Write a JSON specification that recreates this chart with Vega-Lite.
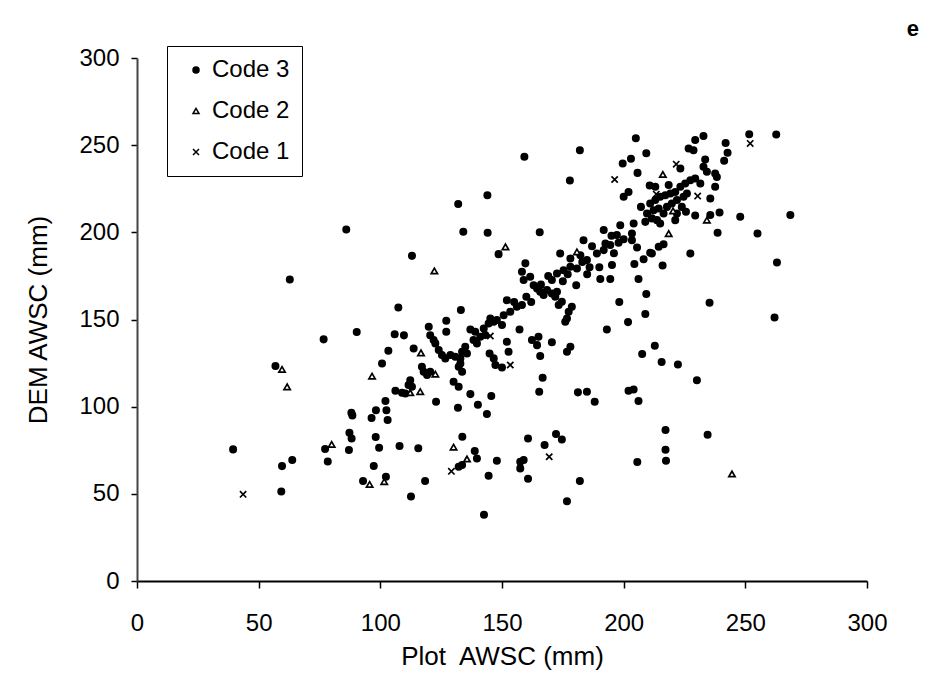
{
"$schema": "https://vega.github.io/schema/vega-lite/v6.json",
"width": 730, "height": 523,
"autosize": "none",
"padding": {"left": 137, "top": 58, "right": 64, "bottom": 113},
"background": "white",
"title": {"text": "e", "anchor": "end", "frame": "group", "dx": 52, "offset": 5, "fontSize": 22, "fontWeight": "bold", "font": "Liberation Sans", "color": "black"},
"config": {"view": {"stroke": null}, "font": "Liberation Sans"},
"data": {"values": [
{"x":86.0,"y":201.6,"c":"Code 3"},{"x":62.8,"y":173.0,"c":"Code 3"},{"x":76.7,"y":138.6,"c":"Code 3"},{"x":90.3,"y":142.8,"c":"Code 3"},{"x":56.9,"y":123.3,"c":"Code 3"},{"x":39.5,"y":75.5,"c":"Code 3"},{"x":59.6,"y":65.9,"c":"Code 3"},{"x":63.8,"y":69.4,"c":"Code 3"},{"x":59.3,"y":51.4,"c":"Code 3"},{"x":77.3,"y":75.7,"c":"Code 3"},{"x":78.4,"y":68.6,"c":"Code 3"},{"x":88.1,"y":96.5,"c":"Code 3"},{"x":88.5,"y":95.0,"c":"Code 3"},{"x":98.2,"y":98.0,"c":"Code 3"},{"x":96.4,"y":93.5,"c":"Code 3"},{"x":87.3,"y":85.1,"c":"Code 3"},{"x":88.2,"y":81.8,"c":"Code 3"},{"x":87.1,"y":75.1,"c":"Code 3"},{"x":98.1,"y":82.6,"c":"Code 3"},{"x":99.5,"y":76.4,"c":"Code 3"},{"x":97.3,"y":66.0,"c":"Code 3"},{"x":92.9,"y":57.3,"c":"Code 3"},{"x":102.5,"y":98.0,"c":"Code 3"},{"x":103.0,"y":92.3,"c":"Code 3"},{"x":102.1,"y":103.2,"c":"Code 3"},{"x":107.9,"y":77.4,"c":"Code 3"},{"x":115.6,"y":76.1,"c":"Code 3"},{"x":122.9,"y":102.8,"c":"Code 3"},{"x":131.9,"y":99.4,"c":"Code 3"},{"x":140.1,"y":101.1,"c":"Code 3"},{"x":143.8,"y":95.8,"c":"Code 3"},{"x":133.7,"y":82.8,"c":"Code 3"},{"x":138.8,"y":74.6,"c":"Code 3"},{"x":139.7,"y":70.3,"c":"Code 3"},{"x":132.2,"y":65.6,"c":"Code 3"},{"x":133.6,"y":66.5,"c":"Code 3"},{"x":147.9,"y":69.0,"c":"Code 3"},{"x":144.5,"y":60.4,"c":"Code 3"},{"x":142.6,"y":38.0,"c":"Code 3"},{"x":118.4,"y":57.3,"c":"Code 3"},{"x":112.6,"y":48.5,"c":"Code 3"},{"x":102.3,"y":59.8,"c":"Code 3"},{"x":160.7,"y":81.8,"c":"Code 3"},{"x":167.5,"y":78.0,"c":"Code 3"},{"x":172.2,"y":84.3,"c":"Code 3"},{"x":174.6,"y":81.2,"c":"Code 3"},{"x":157.5,"y":68.4,"c":"Code 3"},{"x":158.9,"y":69.4,"c":"Code 3"},{"x":157.5,"y":64.6,"c":"Code 3"},{"x":160.7,"y":58.7,"c":"Code 3"},{"x":182.0,"y":57.3,"c":"Code 3"},{"x":176.7,"y":45.7,"c":"Code 3"},{"x":188.1,"y":102.8,"c":"Code 3"},{"x":206.1,"y":103.2,"c":"Code 3"},{"x":217.2,"y":86.6,"c":"Code 3"},{"x":234.5,"y":83.9,"c":"Code 3"},{"x":217.2,"y":75.3,"c":"Code 3"},{"x":217.4,"y":69.0,"c":"Code 3"},{"x":205.6,"y":68.2,"c":"Code 3"},{"x":227.4,"y":187.9,"c":"Code 3"},{"x":263.0,"y":182.7,"c":"Code 3"},{"x":262.0,"y":151.2,"c":"Code 3"},{"x":235.3,"y":159.6,"c":"Code 3"},{"x":216.0,"y":181.0,"c":"Code 3"},{"x":208.2,"y":184.6,"c":"Code 3"},{"x":211.6,"y":187.9,"c":"Code 3"},{"x":204.4,"y":181.8,"c":"Code 3"},{"x":195.2,"y":181.2,"c":"Code 3"},{"x":194.5,"y":173.2,"c":"Code 3"},{"x":190.4,"y":173.2,"c":"Code 3"},{"x":206.1,"y":173.2,"c":"Code 3"},{"x":209.3,"y":164.6,"c":"Code 3"},{"x":198.2,"y":160.0,"c":"Code 3"},{"x":208.9,"y":153.1,"c":"Code 3"},{"x":201.8,"y":148.5,"c":"Code 3"},{"x":193.1,"y":144.3,"c":"Code 3"},{"x":212.8,"y":134.9,"c":"Code 3"},{"x":207.6,"y":130.2,"c":"Code 3"},{"x":215.6,"y":125.6,"c":"Code 3"},{"x":222.3,"y":124.2,"c":"Code 3"},{"x":230.1,"y":115.2,"c":"Code 3"},{"x":202.0,"y":109.1,"c":"Code 3"},{"x":204.1,"y":109.9,"c":"Code 3"},{"x":192.5,"y":193.6,"c":"Code 3"},{"x":194.5,"y":192.7,"c":"Code 3"},{"x":197.9,"y":194.0,"c":"Code 3"},{"x":203.4,"y":195.5,"c":"Code 3"},{"x":205.5,"y":191.3,"c":"Code 3"},{"x":214.4,"y":191.7,"c":"Code 3"},{"x":216.4,"y":193.2,"c":"Code 3"},{"x":210.9,"y":188.3,"c":"Code 3"},{"x":205.0,"y":254.0,"c":"Code 3"},{"x":251.6,"y":256.3,"c":"Code 3"},{"x":262.7,"y":256.1,"c":"Code 3"},{"x":229.4,"y":252.9,"c":"Code 3"},{"x":232.8,"y":255.2,"c":"Code 3"},{"x":209.3,"y":245.4,"c":"Code 3"},{"x":226.7,"y":248.1,"c":"Code 3"},{"x":228.7,"y":247.1,"c":"Code 3"},{"x":241.9,"y":251.3,"c":"Code 3"},{"x":242.7,"y":245.6,"c":"Code 3"},{"x":241.3,"y":241.0,"c":"Code 3"},{"x":199.6,"y":239.5,"c":"Code 3"},{"x":203.0,"y":242.2,"c":"Code 3"},{"x":205.7,"y":234.1,"c":"Code 3"},{"x":223.3,"y":236.6,"c":"Code 3"},{"x":233.5,"y":241.8,"c":"Code 3"},{"x":232.8,"y":237.6,"c":"Code 3"},{"x":234.2,"y":234.7,"c":"Code 3"},{"x":237.6,"y":233.7,"c":"Code 3"},{"x":238.3,"y":231.8,"c":"Code 3"},{"x":237.6,"y":226.1,"c":"Code 3"},{"x":235.6,"y":219.4,"c":"Code 3"},{"x":210.7,"y":226.9,"c":"Code 3"},{"x":213.0,"y":226.1,"c":"Code 3"},{"x":218.5,"y":227.1,"c":"Code 3"},{"x":202.0,"y":223.2,"c":"Code 3"},{"x":200.0,"y":220.4,"c":"Code 3"},{"x":207.1,"y":214.6,"c":"Code 3"},{"x":210.9,"y":216.5,"c":"Code 3"},{"x":213.0,"y":218.5,"c":"Code 3"},{"x":215.0,"y":220.4,"c":"Code 3"},{"x":217.1,"y":221.3,"c":"Code 3"},{"x":219.2,"y":222.3,"c":"Code 3"},{"x":221.2,"y":223.2,"c":"Code 3"},{"x":223.3,"y":226.1,"c":"Code 3"},{"x":225.3,"y":228.0,"c":"Code 3"},{"x":227.4,"y":229.9,"c":"Code 3"},{"x":229.4,"y":230.9,"c":"Code 3"},{"x":231.5,"y":228.0,"c":"Code 3"},{"x":209.6,"y":210.8,"c":"Code 3"},{"x":212.3,"y":212.7,"c":"Code 3"},{"x":214.4,"y":213.7,"c":"Code 3"},{"x":216.4,"y":210.8,"c":"Code 3"},{"x":217.8,"y":214.6,"c":"Code 3"},{"x":219.8,"y":216.5,"c":"Code 3"},{"x":221.9,"y":218.5,"c":"Code 3"},{"x":224.6,"y":220.4,"c":"Code 3"},{"x":208.9,"y":206.0,"c":"Code 3"},{"x":211.6,"y":208.0,"c":"Code 3"},{"x":213.7,"y":207.0,"c":"Code 3"},{"x":215.0,"y":205.1,"c":"Code 3"},{"x":221.2,"y":207.0,"c":"Code 3"},{"x":221.9,"y":210.8,"c":"Code 3"},{"x":223.9,"y":214.6,"c":"Code 3"},{"x":226.0,"y":222.3,"c":"Code 3"},{"x":235.6,"y":209.9,"c":"Code 3"},{"x":239.4,"y":211.4,"c":"Code 3"},{"x":225.6,"y":211.8,"c":"Code 3"},{"x":229.4,"y":209.7,"c":"Code 3"},{"x":247.9,"y":208.9,"c":"Code 3"},{"x":268.5,"y":210.0,"c":"Code 3"},{"x":238.6,"y":199.7,"c":"Code 3"},{"x":255.0,"y":199.3,"c":"Code 3"},{"x":191.8,"y":201.3,"c":"Code 3"},{"x":198.6,"y":204.1,"c":"Code 3"},{"x":204.1,"y":205.1,"c":"Code 3"},{"x":197.2,"y":198.4,"c":"Code 3"},{"x":203.4,"y":199.3,"c":"Code 3"},{"x":159.2,"y":243.3,"c":"Code 3"},{"x":182.0,"y":247.1,"c":"Code 3"},{"x":177.9,"y":229.7,"c":"Code 3"},{"x":144.0,"y":221.3,"c":"Code 3"},{"x":132.0,"y":216.2,"c":"Code 3"},{"x":134.1,"y":200.3,"c":"Code 3"},{"x":144.1,"y":199.7,"c":"Code 3"},{"x":165.5,"y":200.1,"c":"Code 3"},{"x":183.5,"y":195.5,"c":"Code 3"},{"x":113.0,"y":186.5,"c":"Code 3"},{"x":148.6,"y":187.5,"c":"Code 3"},{"x":159.6,"y":182.2,"c":"Code 3"},{"x":158.2,"y":177.4,"c":"Code 3"},{"x":173.9,"y":187.9,"c":"Code 3"},{"x":178.1,"y":185.0,"c":"Code 3"},{"x":182.2,"y":186.9,"c":"Code 3"},{"x":184.9,"y":184.1,"c":"Code 3"},{"x":189.0,"y":187.9,"c":"Code 3"},{"x":191.8,"y":189.8,"c":"Code 3"},{"x":175.3,"y":178.3,"c":"Code 3"},{"x":172.6,"y":176.4,"c":"Code 3"},{"x":170.5,"y":172.6,"c":"Code 3"},{"x":178.1,"y":180.2,"c":"Code 3"},{"x":180.8,"y":179.3,"c":"Code 3"},{"x":180.5,"y":169.7,"c":"Code 3"},{"x":158.9,"y":172.6,"c":"Code 3"},{"x":161.6,"y":174.5,"c":"Code 3"},{"x":163.0,"y":169.7,"c":"Code 3"},{"x":164.4,"y":167.8,"c":"Code 3"},{"x":165.7,"y":165.9,"c":"Code 3"},{"x":167.1,"y":164.0,"c":"Code 3"},{"x":168.5,"y":166.9,"c":"Code 3"},{"x":170.5,"y":164.9,"c":"Code 3"},{"x":171.9,"y":163.0,"c":"Code 3"},{"x":172.6,"y":165.9,"c":"Code 3"},{"x":158.2,"y":158.3,"c":"Code 3"},{"x":152.0,"y":161.1,"c":"Code 3"},{"x":153.4,"y":154.4,"c":"Code 3"},{"x":156.1,"y":157.3,"c":"Code 3"},{"x":150.7,"y":152.5,"c":"Code 3"},{"x":147.9,"y":149.7,"c":"Code 3"},{"x":145.2,"y":150.6,"c":"Code 3"},{"x":146.6,"y":148.7,"c":"Code 3"},{"x":150.0,"y":146.8,"c":"Code 3"},{"x":173.3,"y":158.3,"c":"Code 3"},{"x":174.6,"y":160.2,"c":"Code 3"},{"x":178.7,"y":157.3,"c":"Code 3"},{"x":177.4,"y":154.4,"c":"Code 3"},{"x":176.7,"y":150.6,"c":"Code 3"},{"x":176.0,"y":148.7,"c":"Code 3"},{"x":157.2,"y":144.3,"c":"Code 3"},{"x":137.0,"y":144.3,"c":"Code 3"},{"x":139.0,"y":143.0,"c":"Code 3"},{"x":141.1,"y":140.1,"c":"Code 3"},{"x":138.3,"y":138.2,"c":"Code 3"},{"x":139.7,"y":136.3,"c":"Code 3"},{"x":142.5,"y":144.9,"c":"Code 3"},{"x":144.5,"y":147.7,"c":"Code 3"},{"x":143.1,"y":141.1,"c":"Code 3"},{"x":127.1,"y":149.3,"c":"Code 3"},{"x":127.1,"y":143.0,"c":"Code 3"},{"x":133.1,"y":155.4,"c":"Code 3"},{"x":119.9,"y":145.8,"c":"Code 3"},{"x":120.5,"y":141.0,"c":"Code 3"},{"x":121.9,"y":138.2,"c":"Code 3"},{"x":122.6,"y":136.3,"c":"Code 3"},{"x":107.4,"y":156.9,"c":"Code 3"},{"x":105.9,"y":141.6,"c":"Code 3"},{"x":109.7,"y":140.9,"c":"Code 3"},{"x":103.3,"y":132.1,"c":"Code 3"},{"x":113.7,"y":133.4,"c":"Code 3"},{"x":100.7,"y":124.8,"c":"Code 3"},{"x":124.0,"y":132.5,"c":"Code 3"},{"x":125.3,"y":129.6,"c":"Code 3"},{"x":126.7,"y":127.7,"c":"Code 3"},{"x":128.8,"y":129.6,"c":"Code 3"},{"x":130.8,"y":128.6,"c":"Code 3"},{"x":132.9,"y":127.7,"c":"Code 3"},{"x":134.9,"y":134.4,"c":"Code 3"},{"x":135.6,"y":130.5,"c":"Code 3"},{"x":133.6,"y":131.5,"c":"Code 3"},{"x":117.1,"y":122.9,"c":"Code 3"},{"x":117.8,"y":120.0,"c":"Code 3"},{"x":119.2,"y":118.1,"c":"Code 3"},{"x":120.5,"y":120.0,"c":"Code 3"},{"x":132.2,"y":122.9,"c":"Code 3"},{"x":133.6,"y":120.0,"c":"Code 3"},{"x":132.9,"y":124.8,"c":"Code 3"},{"x":152.0,"y":137.2,"c":"Code 3"},{"x":152.7,"y":131.5,"c":"Code 3"},{"x":144.9,"y":130.5,"c":"Code 3"},{"x":146.6,"y":127.7,"c":"Code 3"},{"x":147.3,"y":123.9,"c":"Code 3"},{"x":150.0,"y":122.5,"c":"Code 3"},{"x":162.3,"y":138.2,"c":"Code 3"},{"x":165.0,"y":140.1,"c":"Code 3"},{"x":164.4,"y":135.3,"c":"Code 3"},{"x":165.7,"y":129.0,"c":"Code 3"},{"x":170.5,"y":136.9,"c":"Code 3"},{"x":178.1,"y":134.4,"c":"Code 3"},{"x":176.7,"y":131.5,"c":"Code 3"},{"x":166.7,"y":116.6,"c":"Code 3"},{"x":165.3,"y":108.6,"c":"Code 3"},{"x":181.2,"y":108.2,"c":"Code 3"},{"x":184.9,"y":108.6,"c":"Code 3"},{"x":112.3,"y":115.2,"c":"Code 3"},{"x":111.6,"y":112.4,"c":"Code 3"},{"x":113.0,"y":111.4,"c":"Code 3"},{"x":106.2,"y":109.1,"c":"Code 3"},{"x":108.9,"y":108.0,"c":"Code 3"},{"x":110.3,"y":107.6,"c":"Code 3"},{"x":130.1,"y":114.3,"c":"Code 3"},{"x":132.2,"y":111.4,"c":"Code 3"},{"x":137.0,"y":107.2,"c":"Code 3"},{"x":145.6,"y":106.1,"c":"Code 3"},{"x":155.0,"y":160.0,"c":"Code 3"},{"x":160.0,"y":163.0,"c":"Code 3"},{"x":162.0,"y":160.0,"c":"Code 3"},{"x":166.0,"y":170.0,"c":"Code 3"},{"x":169.0,"y":175.0,"c":"Code 3"},{"x":175.0,"y":172.0,"c":"Code 3"},{"x":177.0,"y":176.0,"c":"Code 3"},{"x":183.0,"y":183.0,"c":"Code 3"},{"x":186.0,"y":180.0,"c":"Code 3"},{"x":187.0,"y":192.0,"c":"Code 3"},{"x":195.0,"y":198.0,"c":"Code 3"},{"x":200.0,"y":196.0,"c":"Code 3"},{"x":196.0,"y":188.0,"c":"Code 3"},{"x":185.0,"y":176.0,"c":"Code 3"},{"x":190.0,"y":180.0,"c":"Code 3"},
{"x":59.6,"y":121.4,"c":"Code 2"},{"x":61.7,"y":111.4,"c":"Code 2"},{"x":96.6,"y":117.5,"c":"Code 2"},{"x":80.0,"y":78.4,"c":"Code 2"},{"x":95.6,"y":55.4,"c":"Code 2"},{"x":101.6,"y":57.0,"c":"Code 2"},{"x":130.1,"y":76.8,"c":"Code 2"},{"x":135.6,"y":70.0,"c":"Code 2"},{"x":244.5,"y":61.4,"c":"Code 2"},{"x":216.1,"y":233.2,"c":"Code 2"},{"x":220.3,"y":212.3,"c":"Code 2"},{"x":234.2,"y":207.0,"c":"Code 2"},{"x":218.5,"y":199.3,"c":"Code 2"},{"x":122.2,"y":177.9,"c":"Code 2"},{"x":151.4,"y":191.7,"c":"Code 2"},{"x":180.8,"y":188.8,"c":"Code 2"},{"x":116.7,"y":130.9,"c":"Code 2"},{"x":122.6,"y":118.7,"c":"Code 2"},{"x":112.3,"y":108.0,"c":"Code 2"},{"x":116.4,"y":108.6,"c":"Code 2"},
{"x":43.6,"y":49.7,"c":"Code 1"},{"x":129.2,"y":62.9,"c":"Code 1"},{"x":145.2,"y":140.5,"c":"Code 1"},{"x":153.4,"y":123.9,"c":"Code 1"},{"x":169.4,"y":71.3,"c":"Code 1"},{"x":196.3,"y":230.3,"c":"Code 1"},{"x":221.6,"y":239.1,"c":"Code 1"},{"x":213.4,"y":221.9,"c":"Code 1"},{"x":230.4,"y":220.8,"c":"Code 1"},{"x":252.0,"y":251.0,"c":"Code 1"}
]},
"mark": {"type": "point", "stroke": "black", "strokeWidth": 1.7, "size": 40, "opacity": 1},
"encoding": {
"x": {"field": "x", "type": "quantitative", "scale": {"domain": [0, 300], "nice": false, "zero": false},
 "axis": {"values": [0,50,100,150,200,250,300], "title": "Plot\u00a0 AWSC (mm)", "grid": false, "labelFlush": false, "labelFontSize": 24, "labelColor": "black", "labelFont": "Liberation Sans", "labelPadding": 23, "tickSize": 7, "tickColor": "black", "tickWidth": 1.5, "domainColor": "black", "domainWidth": 2, "titleFontSize": 26, "titleFontWeight": "normal", "titleColor": "black", "titleFont": "Liberation Sans", "titlePadding": 8}},
"y": {"field": "y", "type": "quantitative", "scale": {"domain": [0, 300], "nice": false, "zero": false},
 "axis": {"values": [0,50,100,150,200,250,300], "title": "DEM AWSC (mm)", "grid": false, "labelFontSize": 24, "labelColor": "black", "labelFont": "Liberation Sans", "labelPadding": 12, "tickSize": 6, "tickColor": "black", "tickWidth": 1.5, "domainColor": "#444", "domainWidth": 2, "titleFontSize": 26, "titleFontWeight": "normal", "titleColor": "black", "titleFont": "Liberation Sans", "titlePadding": 27}},
"shape": {"field": "c", "type": "nominal", "scale": {"domain": ["Code 3", "Code 2", "Code 1"], "range": ["circle", "triangle-up", "M-1,-1L1,1M1,-1L-1,1"]},
 "legend": {"title": null, "orient": "none", "legendX": 30, "legendY": -12, "strokeColor": "black", "padding": 12, "rowPadding": 17, "labelFontSize": 24, "labelFont": "Liberation Sans", "labelColor": "black", "labelOffset": 4, "symbolOffset": 5, "symbolSize": 36, "fillColor": "white", "labelExpr": "datum.label + '\u00a0'",
  "encode": {"symbols": {"update": {"stroke": {"value": "black"}, "strokeWidth": {"value": 1.6}}}}}},
"fill": {"field": "c", "type": "nominal", "scale": {"domain": ["Code 3", "Code 2", "Code 1"], "range": ["black", "white", "transparent"]},
 "legend": {"title": null, "orient": "none", "legendX": 30, "legendY": -12, "strokeColor": "black", "padding": 12, "rowPadding": 17, "labelFontSize": 24, "labelFont": "Liberation Sans", "labelColor": "black", "labelOffset": 4, "symbolOffset": 5, "symbolSize": 36, "fillColor": "white", "labelExpr": "datum.label + '\u00a0'",
  "encode": {"symbols": {"update": {"stroke": {"value": "black"}, "strokeWidth": {"value": 1.6}}}}}}
}
}
